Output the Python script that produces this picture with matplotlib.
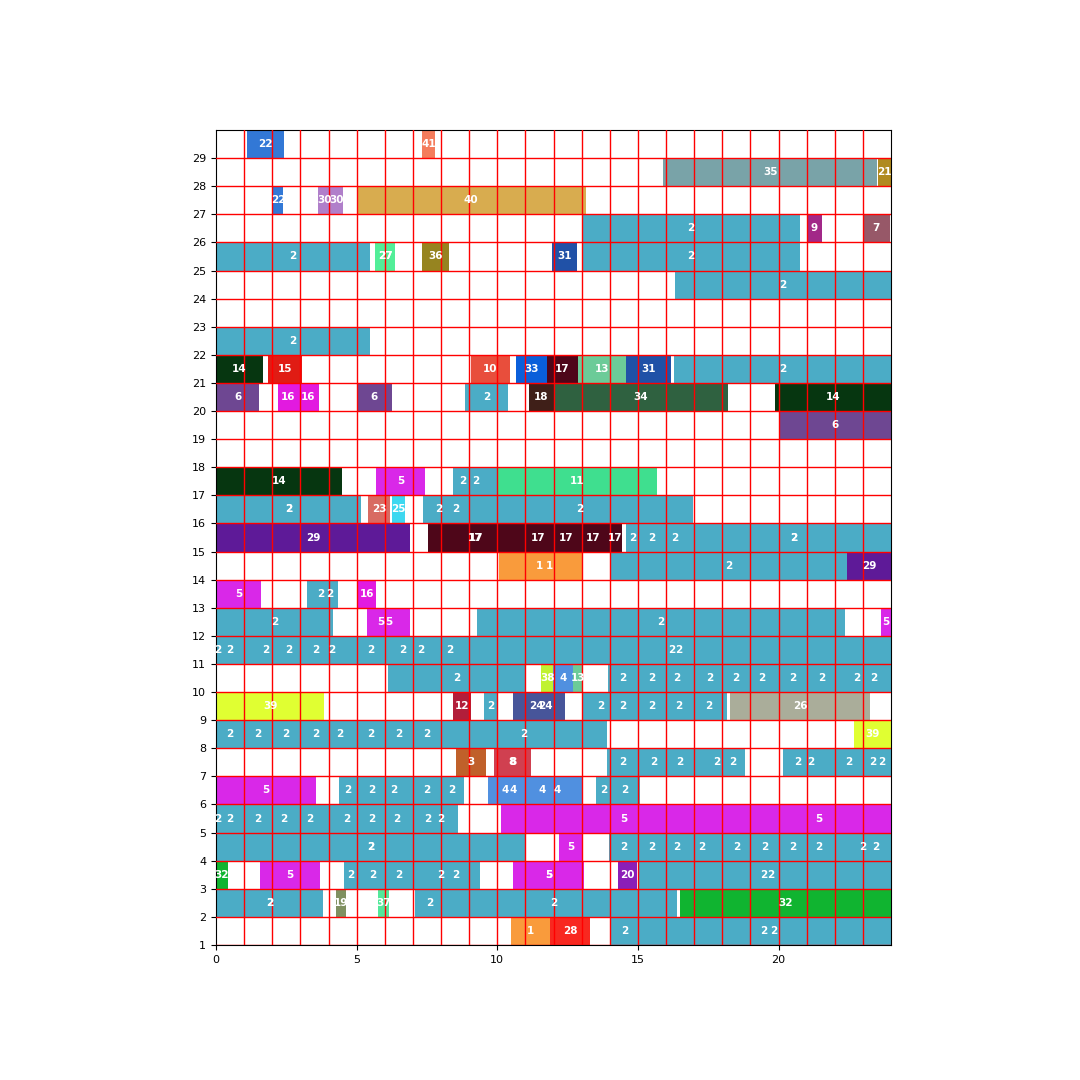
import matplotlib
matplotlib.use("Agg")
import matplotlib.pyplot as plt

# colour for every job id
job_colors = {
    1: '#F99B3C', 2: '#4BACC6', 3: '#C0602A', 4: '#5090E0', 5: '#D928E8',
    6: '#6E4792', 7: '#975868', 8: '#D04050', 9: '#A22888', 10: '#E84E3C',
    11: '#3FDF8F', 12: '#B21E3A', 13: '#6CCB98', 14: '#063610', 15: '#E01C14',
    16: '#E21AE0', 17: '#4E0619', 18: '#3F1F18', 19: '#7F9060', 20: '#8B1EB8',
    21: '#B08A1F', 22: '#3278D6', 23: '#D86B62', 24: '#47559A', 25: '#3DD8F0',
    26: '#AAAD9A', 27: '#52EE98', 28: '#F82820', 29: '#5E1A98', 30: '#B07FCA',
    31: '#2051A7', 32: '#10B430', 33: '#0A5FDA', 34: '#2F6140', 35: '#79A3A8',
    36: '#968420', 37: '#52E89A', 38: '#C0F232', 39: '#E0FF32', 40: '#D8AC4F',
    41: '#F47C5C',
}

# each row: (start, end, job)
row1 = [(10.49, 11.88, 1), (11.88, 13.3, 28), (14.0, 15.08, 2), (15.08, 23.88, 2), (15.68, 24, 2)]
row2 = [(0, 3.8, 2), (0.02, 3.8, 2), (4.27, 4.62, 19), (5.76, 6.15, 37), (7.08, 8.12, 2),
        (7.64, 16.4, 2), (16.5, 24, 32)]
row3 = [(0, 0.41, 32), (1.56, 3.7, 5), (4.55, 5.05, 2), (5.05, 6.13, 2), (6.13, 6.89, 2),
        (6.89, 9.11, 2), (7.67, 9.39, 2), (10.56, 13.1, 5), (10.6, 13.1, 5), (14.3, 14.97, 20),
        (15.0, 23.94, 2), (15.46, 24, 2)]
row4 = [(0, 11.0, 2), (0.02, 11.0, 2), (12.2, 13.02, 5), (13.97, 15.05, 2), (15.05, 15.95, 2),
        (15.95, 16.85, 2), (16.85, 17.71, 2), (17.71, 19.33, 2), (19.33, 19.71, 2),
        (19.71, 21.33, 2), (20.88, 22.0, 2), (22.0, 24.0, 2), (22.94, 24, 2)]
row5 = [(0, 0.14, 2), (0.14, 0.86, 2), (0.86, 2.12, 2), (2.12, 2.72, 2), (2.72, 3.98, 2),
        (3.98, 5.34, 2), (5.34, 5.76, 2), (5.76, 7.12, 2), (7.12, 7.96, 2), (7.36, 8.6, 2),
        (10.13, 18.89, 5), (18.89, 24, 5)]
row6 = [(0, 3.56, 5), (4.37, 5.01, 2), (5.01, 6.09, 2), (6.09, 6.57, 2), (6.57, 8.43, 2),
        (7.96, 8.82, 2), (9.67, 10.93, 4), (10.17, 10.93, 4), (10.93, 12.27, 4),
        (11.24, 13.02, 4), (13.51, 14.09, 2), (14.01, 15.07, 2)]
row7 = [(8.53, 9.6, 3), (9.88, 11.2, 8), (9.9, 11.2, 8), (13.9, 15.04, 2), (15.04, 16.1, 2),
        (16.1, 16.9, 2), (16.9, 18.72, 2), (17.92, 18.81, 2), (20.16, 21.24, 2),
        (20.9, 21.4, 2), (21.4, 23.6, 2), (22.72, 24, 2), (23.36, 24, 2)]
row8 = [(0, 1.0, 2), (1.0, 1.98, 2), (1.98, 3.0, 2), (3.0, 4.12, 2), (4.12, 4.7, 2),
        (4.7, 6.32, 2), (6.32, 6.7, 2), (6.7, 8.3, 2), (8.0, 13.9, 2), (22.68, 24, 39)]
row9 = [(0, 3.84, 39), (8.43, 9.07, 12), (9.53, 10.0, 2), (10.55, 12.27, 24), (11.0, 12.4, 24),
        (13.02, 14.36, 2), (14.0, 14.94, 2), (14.94, 16.06, 2), (16.06, 16.86, 2),
        (16.86, 18.17, 2), (18.28, 23.25, 26)]
row10 = [(6.11, 11.0, 2), (11.56, 11.99, 38), (11.99, 12.7, 4), (12.7, 13.05, 13),
         (13.94, 15.0, 2), (15.0, 16.0, 2), (16.0, 16.8, 2), (16.8, 18.34, 2), (17.9, 19.06, 2),
         (19.06, 19.78, 2), (19.78, 21.22, 2), (21.22, 21.88, 2), (21.88, 23.72, 2), (22.8, 24, 2)]
row11 = [(0, 0.12, 2), (0.12, 0.88, 2), (0.88, 2.68, 2), (2.46, 2.68, 2), (2.68, 4.44, 2),
         (3.8, 4.44, 2), (4.44, 6.58, 2), (6.58, 6.72, 2), (6.72, 7.84, 2), (7.84, 8.8, 2),
         (8.8, 23.6, 2), (8.9, 24, 2)]
row12 = [(0, 4.16, 2), (5.37, 6.37, 5), (5.4, 6.9, 5), (9.28, 22.37, 2), (23.64, 24, 5)]
row13 = [(0, 1.6, 5), (3.24, 4.22, 2), (3.78, 4.34, 2), (5.05, 5.69, 16)]
row14 = [(10.05, 12.95, 1), (10.65, 13.05, 1), (14.04, 22.44, 2), (22.44, 24, 29)]
row15 = [(0, 6.9, 29), (7.54, 10.88, 17), (7.64, 10.88, 17), (10.88, 12.02, 17),
         (12.02, 12.9, 17), (12.9, 13.94, 17), (13.94, 14.44, 17), (14.58, 15.02, 2),
         (15.02, 15.98, 2), (15.5, 17.1, 2), (17.1, 24, 2), (17.05, 24.05, 2)]
row16 = [(0, 5.16, 2), (0.02, 5.16, 2), (5.4, 6.19, 23), (6.26, 6.72, 25), (7.36, 8.5, 2),
         (8.1, 8.96, 2), (8.93, 16.96, 2)]
row17 = [(0, 4.48, 14), (5.69, 7.43, 5), (8.43, 9.09, 2), (8.5, 10.0, 2), (10.0, 15.68, 11)]
row18 = []
row19 = [(20.0, 24, 6)]
row20 = [(0, 1.53, 6), (2.2, 2.93, 16), (2.93, 3.65, 16), (5.01, 6.25, 6), (8.85, 10.38, 2),
         (11.13, 12.02, 18), (12.02, 18.2, 34), (19.88, 24, 14)]
row21 = [(0, 1.67, 14), (1.85, 3.06, 15), (9.07, 10.45, 10), (10.67, 11.77, 33),
         (11.77, 12.87, 17), (12.87, 14.58, 13), (14.58, 16.18, 31), (16.28, 24, 2)]
row22 = [(0, 5.48, 2)]
row23 = []
row24 = [(16.32, 24, 2)]
row25 = [(0, 5.48, 2), (5.66, 6.36, 27), (5.7, 6.36, 27), (7.32, 8.28, 36), (11.95, 12.83, 31),
         (13.02, 20.77, 2)]
row26 = [(13.02, 20.77, 2), (21.0, 21.55, 9), (23.0, 23.96, 7)]
row27 = [(2.03, 2.38, 22), (3.63, 4.07, 30), (4.07, 4.52, 30), (5.0, 13.15, 40)]
row28 = [(15.9, 23.5, 35), (23.54, 24, 21)]
row29 = [(1.1, 2.42, 22), (7.32, 7.79, 41)]

rows = [row1, row2, row3, row4, row5, row6, row7, row8, row9, row10,
        row11, row12, row13, row14, row15, row16, row17, row18, row19, row20,
        row21, row22, row23, row24, row25, row26, row27, row28, row29]
y_ticks = list(range(1, 30))
x_ticks = [0, 5, 10, 15, 20]

fig = plt.figure(figsize=(10.8, 10.8), dpi=100)
ax = fig.add_axes([0.2, 0.125, 0.625, 0.7546])

for i, row in enumerate(rows):
    y = i + 1
    for start, end, job in row:
        ax.barh(y + 0.5, end - start, left=start, height=1,
                color=job_colors[job], linewidth=0, zorder=2)
        ax.text((start + end) / 2, y + 0.5, str(job), color='white',
                fontsize=7.5, fontweight='bold', ha='center', va='center', zorder=4)

#red grid
for y in range(1, 30):
    ax.axhline(y, color='red', linewidth=1, zorder=3)
for x in range(1, 24):
    ax.axvline(x, color='red', linewidth=1, zorder=3)

ax.set_xlim(0, 24)
ax.set_ylim(1, 30)
ax.set_xticks(x_ticks)
ax.set_yticks(y_ticks)
ax.tick_params(labelsize=8)

plt.savefig('out.png')
